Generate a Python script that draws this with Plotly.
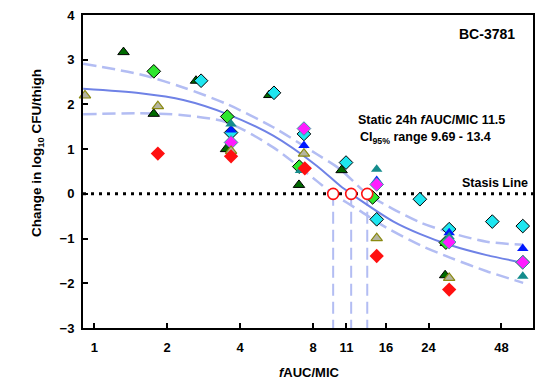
import math
import plotly.graph_objects as go

# ---- observed data (fAUC/MIC, change in log10 CFU/thigh) ----
dkgreen_tri_x = [1.32, 1.76, 2.63, 5.28, 3.50, 7.0, 10.5, 14.1, 28.1, 28.3]
dkgreen_tri_y = [3.17, 1.79, 2.53, 2.21, 1.00, 0.20, 0.53, -0.05, -1.82, -1.10]

green_dia_x = [1.76, 3.54, 7.02, 14.1, 28.3]
green_dia_y = [2.74, 1.73, 0.61, -0.08, -1.09]

cyan_dia_x = [2.76, 5.52, 3.67, 7.34, 10.95, 14.66, 22.1, 29.2, 44.0, 58.8, 58.8]
cyan_dia_y = [2.53, 2.26, 1.37, 1.34, 0.70, -0.57, -0.12, -0.79, -0.62, -0.72, -1.53]

blue_tri_x = [3.67, 7.34, 14.66, 29.2, 58.8]
blue_tri_y = [1.43, 1.08, 0.30, -0.87, -1.22]

teal_tri_x = [3.67, 7.1, 14.66, 29.2, 58.8]
teal_tri_y = [1.56, 0.52, 0.55, -0.96, -1.84]

magenta_dia_x = [3.67, 7.34, 14.66, 29.2, 58.8]
magenta_dia_y = [1.15, 1.46, 0.21, -1.08, -1.53]

gray_tri_x = [0.915, 1.83, 3.67, 7.34, 14.66, 29.2]
gray_tri_y = [2.20, 1.96, 0.96, 0.90, -0.99, -1.88]

red_dia_x = [1.83, 3.67, 7.4, 14.66, 29.2]
red_dia_y = [0.90, 0.84, 0.57, -1.39, -2.14]

# ---- fitted curve and 95% band ----
fit_x = [0.9, 1.55, 2.33, 3.52, 5.48, 8.28, 10.35, 11.5, 17.2, 22.2, 29.6, 41.7, 59.0]
fit_y = [2.35, 2.25, 2.10, 1.79, 1.30, 0.63, 0.18, 0.0, -0.62, -0.90, -1.15, -1.37, -1.54]

upper_x = [0.9, 1.55, 2.33, 3.52, 5.48, 8.28, 10.35, 13.4, 17.0, 22.2, 29.6, 41.7, 59.0]
upper_y = [2.91, 2.67, 2.38, 2.01, 1.49, 0.89, 0.55, 0.0, -0.33, -0.64, -0.87, -1.07, -1.14]

lower_x = [0.9, 1.55, 2.33, 3.52, 5.48, 8.28, 9.69, 12.5, 16.0, 22.2, 29.6, 41.7, 59.0]
lower_y = [1.78, 1.80, 1.76, 1.60, 1.04, 0.29, 0.0, -0.38, -0.75, -1.15, -1.43, -1.73, -1.99]

stasis_values = [9.69, 11.5, 13.4]   # lower CI, static dose, upper CI

x_ticks = [1, 2, 4, 8, 11, 16, 24, 48]
x_range = [0.898, 64.8]
y_range = [-3, 4]

FONT = "Liberation Sans, Arial, sans-serif"
curve_col = "#6f82e6"
band_col = "#b3bdf3"

fig = go.Figure()

for v in stasis_values:
    fig.add_trace(go.Scatter(x=[v, v], y=[0, y_range[0]], mode="lines",
                             line=dict(color=band_col, width=2, dash="12px,6px"),
                             hoverinfo="skip"))

fig.add_trace(go.Scatter(x=x_range, y=[0, 0], mode="lines",
                         line=dict(color="black", width=3, dash="3px,5px"),
                         hoverinfo="skip"))

for xs, ys, col, w, dash in [(upper_x, upper_y, band_col, 2.5, "13px,6px"),
                             (lower_x, lower_y, band_col, 2.5, "13px,6px"),
                             (fit_x, fit_y, curve_col, 2, "solid")]:
    fig.add_trace(go.Scatter(x=xs, y=ys, mode="lines",
                             line=dict(color=col, width=w, dash=dash,
                                       shape="spline", smoothing=0.8)))

def pts(x, y, symbol, fill, edge, ew=1, size=10):
    fig.add_trace(go.Scatter(x=x, y=y, mode="markers", cliponaxis=False,
                             marker=dict(symbol=symbol, size=size, color=fill,
                                         line=dict(color=edge, width=ew))))

pts(dkgreen_tri_x, dkgreen_tri_y, "triangle-up", "#006a00", "black", 1, 10)
pts(green_dia_x, green_dia_y, "diamond", "#2ee62e", "black", 1, 10.5)
pts(cyan_dia_x, cyan_dia_y, "diamond", "#1ee6f0", "black", 1, 10.5)
pts(blue_tri_x, blue_tri_y, "triangle-up", "#0018ff", "#0018ff", 0, 10)
pts(teal_tri_x, teal_tri_y, "triangle-up", "#148c8c", "#148c8c", 0, 10)
pts(magenta_dia_x, magenta_dia_y, "diamond", "#ff1cff", "#3aa0a0", 1, 10.5)
pts(gray_tri_x, gray_tri_y, "triangle-up", "#b4b4a0", "#8a8a10", 1.2, 10)
pts(red_dia_x, red_dia_y, "diamond", "#ff1010", "#ff1010", 0, 11)

fig.add_trace(go.Scatter(x=stasis_values, y=[0] * len(stasis_values), mode="markers",
                         marker=dict(symbol="circle", size=11, color="white",
                                     line=dict(color="#ff1010", width=1.6))))

axis_common = dict(showline=True, linecolor="black", linewidth=2, mirror=True,
                   ticks="inside", ticklen=5, tickwidth=1.5, tickcolor="black",
                   showgrid=False, zeroline=False, automargin=False,
                   tickfont=dict(family=FONT, size=13, color="black", weight="bold"))

fig.update_xaxes(type="log", range=[math.log10(x_range[0]), math.log10(x_range[1])],
                 tickvals=x_ticks, ticktext=[str(t) for t in x_ticks],
                 ticklabelstandoff=6, **axis_common)
fig.update_yaxes(range=y_range, dtick=1, ticklabelstandoff=4, **axis_common)

def ann(text, px, py, xanchor="center", size=12.5, angle=0):
    fig.add_annotation(text=text, xref="paper", yref="paper",
                       x=(px - 83) / 450, y=(328 - py) / 313,
                       xanchor=xanchor, yanchor="middle", showarrow=False,
                       textangle=angle,
                       font=dict(family=FONT, size=size, color="black", weight="bold"))

ann("BC-3781", 487, 34, size=14)
ann("Static 24h <i>f</i>AUC/MIC 11.5", 356, 120, xanchor="left")
ann("CI<sub>95%</sub> range 9.69 - 13.4", 358, 138, xanchor="left")
ann("Stasis Line", 530, 183, xanchor="right")
ann("<i>f</i>AUC/MIC", 309, 372, size=13)
ann("Change in log<sub>10</sub> CFU/thigh", 38, 153, size=13.5, angle=-90)

fig.update_layout(width=553, height=383, showlegend=False,
                  margin=dict(l=83, r=20, t=15, b=55, autoexpand=False),
                  plot_bgcolor="white", paper_bgcolor="white",
                  font=dict(family=FONT))

fig.write_html("out.html", config={"displayModeBar": False},
               post_script="document.body.style.margin='0';"
                           "document.body.style.overflow='hidden';")
